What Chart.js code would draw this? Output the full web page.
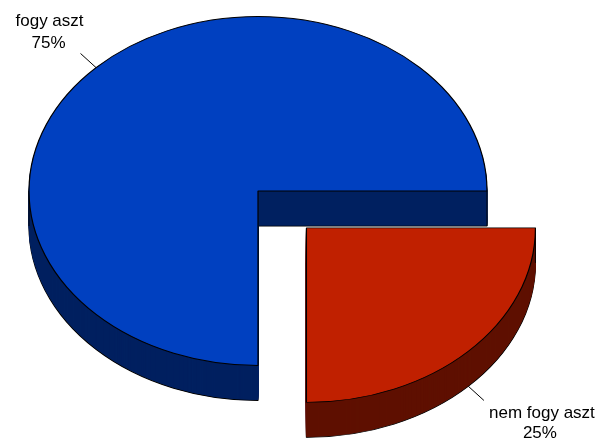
<!DOCTYPE html>
<html>
<head>
<meta charset="utf-8">
<script src="https://cdn.jsdelivr.net/npm/chart.js@4"></script>
<style>
  body { margin: 0; background: #fff; }
</style>
</head>
<body>
<canvas id="chart" width="605" height="439"></canvas>
<script>
const categories = ['fogy aszt', 'nem fogy aszt'];
const values = [75, 25];
const pctLabels = ['75%', '25%'];
const topColors = ['#0040C0', '#C02000'];
const sideColors = ['#002060', '#5F1000'];

const K = 0.762;     // vertical squash of the pie
const DEPTH = 35;    // thickness in px

function squash(ctx, cx, cy, dy) {
  ctx.translate(cx, cy + dy);
  ctx.scale(1, K);
  ctx.translate(-cx, -cy);
}

function inArc(arc, ang) {
  let a = ang;
  while (a < arc.startAngle - 1e-6) a += Math.PI * 2;
  return a <= arc.endAngle + 1e-6;
}

function arcShift(arc) {
  let off = (arc.options.offset || 0) / 4;
  let mid = (arc.startAngle + arc.endAngle) / 2;
  return { x: Math.cos(mid) * off, y: Math.sin(mid) * off };
}

const pie3d = {
  id: 'pie3d',
  beforeDatasetsDraw(chart) {
    const ctx = chart.ctx;
    const arcs = chart.getDatasetMeta(0).data;
    const cx = arcs[0].x, cy = arcs[0].y;

    // side walls: stack the slices downwards
    for (let d = DEPTH; d >= 1; d--) {
      ctx.save();
      squash(ctx, cx, cy, d);
      arcs.forEach((arc, i) => {
        const o = arc.options;
        arc.options = Object.assign({}, o, {
          backgroundColor: sideColors[i],
          borderColor: d === DEPTH ? '#000' : sideColors[i],
          borderWidth: d === DEPTH ? 1.2 : 1
        });
        arc.draw(ctx);
        arc.options = o;
      });
      ctx.restore();
    }

    // vertical edges at the left/right extremes
    ctx.save();
    squash(ctx, cx, cy, 0);
    ctx.strokeStyle = '#000';
    ctx.lineWidth = 1;
    arcs.forEach(arc => {
      const s = arcShift(arc);
      [0, Math.PI].forEach(ang => {
        if (!inArc(arc, ang)) return;
        const x = arc.x + s.x + Math.cos(ang) * arc.outerRadius;
        const y = arc.y + s.y;
        ctx.beginPath();
        ctx.moveTo(x, y);
        ctx.lineTo(x, y + DEPTH / K);
        ctx.stroke();
      });
    });
    ctx.restore();

    // top faces drawn squashed by chart.js
    ctx.save();
    squash(ctx, cx, cy, 0);
  },
  afterDatasetsDraw(chart) {
    chart.ctx.restore();
  },
  afterDraw(chart) {
    const ctx = chart.ctx;
    const arcs = chart.getDatasetMeta(0).data;
    const cx = arcs[0].x, cy = arcs[0].y;
    ctx.save();
    ctx.font = '17px "Liberation Sans", Arial, sans-serif';
    ctx.fillStyle = '#000';
    ctx.strokeStyle = '#000';
    ctx.lineWidth = 1;
    ctx.textAlign = 'center';
    arcs.forEach((arc, i) => {
      const s = arcShift(arc);
      const mid = (arc.startAngle + arc.endAngle) / 2;
      const ux = arc.x + s.x + Math.cos(mid) * arc.outerRadius;
      const uy = arc.y + s.y + Math.sin(mid) * arc.outerRadius;
      const x0 = ux;
      let y0 = cy + (uy - cy) * K;
      if (Math.sin(mid) > 0) y0 += DEPTH;
      const x1 = x0 + Math.cos(mid) * 22;
      const y1 = y0 + Math.sin(mid) * 20;
      ctx.beginPath();
      ctx.moveTo(x0, y0);
      ctx.lineTo(x1, y1);
      ctx.stroke();
      if (Math.cos(mid) < 0) {
        ctx.fillText(categories[i], x1 - 31, y1 - 27);
        ctx.fillText(pctLabels[i], x1 - 32, y1 - 5);
      } else {
        ctx.fillText(categories[i], x1 + 58, y1 + 18);
        ctx.fillText(pctLabels[i], x1 + 56, y1 + 38);
      }
    });
    ctx.restore();
  }
};

new Chart(document.getElementById('chart'), {
  type: 'pie',
  data: {
    labels: categories,
    datasets: [{
      data: values,
      backgroundColor: topColors,
      borderColor: '#000',
      borderWidth: 1.2,
      offset: [0, 274],
      clip: false
    }]
  },
  options: {
    responsive: false,
    animation: false,
    events: [],
    rotation: 180,
    radius: 229,
    layout: { padding: { left: 0, right: 89, top: 0, bottom: 57 } },
    plugins: {
      legend: { display: false },
      tooltip: { enabled: false }
    }
  },
  plugins: [pie3d]
});
</script>
</body>
</html>
